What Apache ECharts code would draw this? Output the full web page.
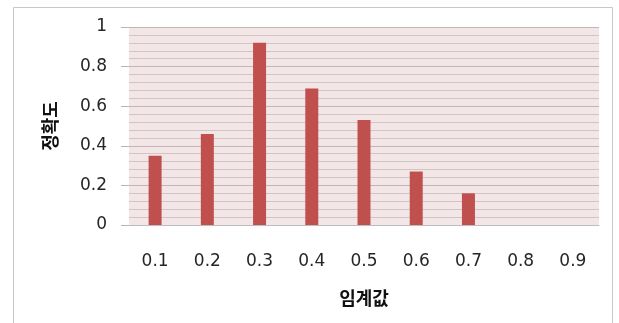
<!DOCTYPE html>
<html>
<head>
<meta charset="utf-8">
<script src="https://cdn.jsdelivr.net/npm/echarts@6/dist/echarts.min.js"></script>
<style>
  html, body { margin: 0; padding: 0; background: #ffffff; }
  #chart { width: 619px; height: 323px; }
</style>
</head>
<body>
<div id="chart"></div>
<script>
// 임계값별 정확도
const thresholds = ['0.1', '0.2', '0.3', '0.4', '0.5', '0.6', '0.7', '0.8', '0.9'];
const accuracy = [0.35, 0.46, 0.92, 0.69, 0.53, 0.27, 0.16, 0, 0];
const yTicks = { min: 0, max: 1, interval: 0.2 };

const NUM_FONT = '"DejaVu Sans", sans-serif';
const KR_FONT = '"Noto Sans CJK KR", sans-serif';

const chart = echarts.init(document.getElementById('chart'), null, { renderer: 'canvas' });

chart.setOption({
  animation: false,
  backgroundColor: '#ffffff',
  graphic: [{
    type: 'rect',
    shape: { x: 13.5, y: 7.5, width: 599, height: 330 },
    style: { fill: 'none', stroke: '#c8c8c8', lineWidth: 1 },
    silent: true
  }],
  grid: {
    left: 129, right: 20, top: 27, bottom: 98,
    show: true,
    backgroundColor: '#f3e6e7',
    borderWidth: 0
  },
  xAxis: {
    type: 'category',
    data: thresholds,
    name: '임계값',
    nameLocation: 'middle',
    nameGap: 64,
    nameTextStyle: { fontFamily: KR_FONT, fontSize: 18, fontWeight: 'bold', color: '#111' },
    axisLine: { show: true, lineStyle: { color: '#bdbdbd', width: 1 } },
    axisTick: { show: false },
    axisLabel: { fontFamily: NUM_FONT, fontSize: 17, color: '#262626', margin: 28 },
    splitLine: { show: false }
  },
  yAxis: {
    type: 'value',
    min: yTicks.min,
    max: yTicks.max,
    interval: yTicks.interval,
    name: '정확도',
    nameLocation: 'middle',
    nameGap: 70,
    nameRotate: 90,
    nameTextStyle: { fontFamily: KR_FONT, fontSize: 18, fontWeight: 'bold', color: '#111' },
    axisLine: { show: false },
    axisTick: { show: true, length: 8, lineStyle: { color: '#b5b5b5' } },
    axisLabel: { fontFamily: NUM_FONT, fontSize: 17, color: '#262626', margin: 22 },
    splitLine: { show: true, lineStyle: { color: '#c4b4b5', width: 1 } },
    minorTick: { show: false, splitNumber: 5 },
    minorSplitLine: { show: true, lineStyle: { color: '#d3c3c4', width: 1 } }
  },
  series: [{
    type: 'bar',
    data: accuracy,
    barWidth: 13,
    itemStyle: { color: '#c0504d' }
  }]
});
</script>
</body>
</html>
